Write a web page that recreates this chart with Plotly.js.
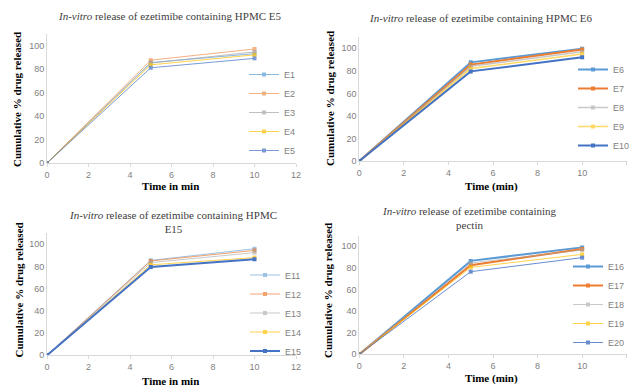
<!DOCTYPE html>
<html><head><meta charset="utf-8">
<script src="https://cdn.plot.ly/plotly-3.0.1.min.js"></script>
<style>html,body{margin:0;padding:0;background:#fff}#c{width:630px;height:386px}</style>
</head><body><div id="c"></div>
<script>
const timeMin = [0, 5, 10];
const names1 = ["E1","E2","E3","E4","E5"];
const vals1 = [[0,85.5,93],[0,87.5,97],[0,85,94.5],[0,83.5,92],[0,81,89]];
const names2 = ["E6","E7","E8","E9","E10"];
const vals2 = [[0,87.5,99.5],[0,85.5,99],[0,84,97],[0,82,95],[0,79.5,92]];
const names3 = ["E11","E12","E13","E14","E15"];
const vals3 = [[0,85.5,96],[0,85,94.5],[0,83.5,92.5],[0,81.5,88],[0,79.5,86.5]];
const names4 = ["E16","E17","E18","E19","E20"];
const vals4 = [[0,86.5,99],[0,82.5,97.5],[0,84.5,96.5],[0,80.5,92.5],[0,76.5,89.5]];
const xTicks = [0,2,4,6,8,10,12];
const yTicks = [0,20,40,60,80,100];
const titles = ["<i>In-vitro</i> release of ezetimibe containing HPMC E5",
  "<i>In-vitro</i> release of ezetimibe containing HPMC E6",
  "<i>In-vitro</i> release of ezetimibe containing HPMC<br>E15",
  "<i>In-vitro</i> release of ezetimibe containing<br>pectin"];
const xTitles = ["Time in min","Time (min)","Time in min","Time (min)"];
const yTitle = "Cumulative % drug released";

const colors = ["#5B9BD5","#ED7D31","#A5A5A5","#FFC000","#4472C4"];
const widths = [[1,1,1,1,1],[2,2,1.5,1.5,2],[1,1,1,1,2],[2,2,1,1,1]];
const opac = [[0.7,0.6,0.7,0.7,0.7],[1,1,0.6,0.6,1],[0.6,0.7,0.6,0.7,1],[1,1,0.6,0.7,0.8]];
const W=630,H=386;
const px=(v)=>v/W, py=(v)=>(H-v)/H;
const panels = [
  {x0:47,x1:296,y0:163,ytop:33.7,leg:[244,60]},
  {x0:359.3,x1:626.7,y0:161,ytop:37,leg:[573,55]},
  {x0:47,x1:296,y0:355.3,ytop:233.2,leg:[245,260.5]},
  {x0:359.3,x1:626.7,y0:354.3,ytop:235.5,leg:[568,252]}
];
const allNames=[names1,names2,names3,names4], allVals=[vals1,vals2,vals3,vals4];
const data=[]; const layout={width:W,height:H,margin:{l:0,r:0,t:0,b:0,autoexpand:false},paper_bgcolor:"#fff",plot_bgcolor:"rgba(0,0,0,0)",
  font:{family:"Liberation Sans",color:"#7f7f7f",size:9},annotations:[]};
panels.forEach((p,i)=>{
  const s=i===0?"":String(i+1);
  const legName = i===0?"legend":"legend"+s;
  allNames[i].forEach((n,j)=>{
    data.push({x:timeMin,y:allVals[i][j],name:n,type:"scatter",mode:"lines+markers",
      xaxis:"x"+s,yaxis:"y"+s,legend:legName,opacity:opac[i][j],
      line:{color:colors[j],width:widths[i][j]},marker:{color:colors[j],size:4,symbol:"square"}});
  });
  layout["xaxis"+s]={domain:[px(p.x0),px(p.x1)],range:[0,12],tickvals:xTicks,ticks:"outside",ticklen:3,tickcolor:"#d9d9d9",
    showline:true,linecolor:"#d9d9d9",showgrid:false,zeroline:false,anchor:"y"+s,tickfont:{size:9,color:"#7f7f7f"}};
  layout["yaxis"+s]={domain:[py(p.y0),py(p.ytop)],range:[0,110],tickvals:yTicks,ticks:"",showline:true,linecolor:"#d9d9d9",
    showgrid:false,zeroline:false,anchor:"x"+s,tickfont:{size:9,color:"#7f7f7f"}};
  layout[legName]={x:px(p.leg[0]),y:py(p.leg[1]),xanchor:"left",yanchor:"top",bgcolor:"rgba(0,0,0,0)",
    font:{size:9,color:"#7f7f7f"},itemwidth:30,tracegroupgap:0};
});
const tpos=[[169,16],[480,18],[172.5,222],[469,218]];
const xtpos=[[170,185.5],[491.7,186],[170,380.5],[491.7,378.5]];
const ytpos=[[17,100],[330,99],[18,290.5],[328,291]];
for(let i=0;i<4;i++){
  layout.annotations.push({text:titles[i],x:px(tpos[i][0]),y:py(tpos[i][1]),xref:"paper",yref:"paper",showarrow:false,
    xanchor:"center",yanchor:"middle",font:{family:"Liberation Serif",size:11,color:"#404040"}});
  layout.annotations.push({text:"<b>"+xTitles[i]+"</b>",x:px(xtpos[i][0]),y:py(xtpos[i][1]),xref:"paper",yref:"paper",showarrow:false,
    xanchor:"center",yanchor:"middle",font:{family:"Liberation Serif",size:11,color:"#000"}});
  layout.annotations.push({text:"<b>"+yTitle+"</b>",x:px(ytpos[i][0]),y:py(ytpos[i][1]),xref:"paper",yref:"paper",showarrow:false,
    textangle:-90,xanchor:"center",yanchor:"middle",font:{family:"Liberation Serif",size:11,color:"#000"}});
}
Plotly.newPlot("c",data,layout,{staticPlot:true});
</script></body></html>
